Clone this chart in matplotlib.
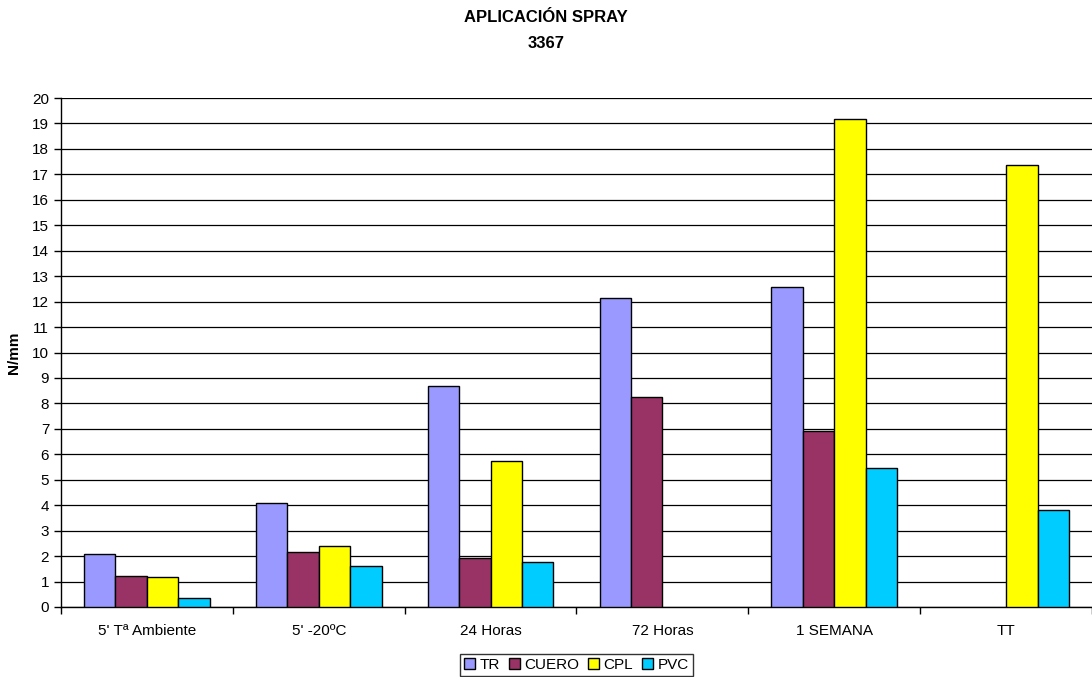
import numpy as np
import matplotlib.pyplot as plt

plt.rcParams['font.family'] = ['Liberation Sans', 'DejaVu Sans']

# datos (N/mm)
categorias = ["5' Tª Ambiente", "5' -20ºC", "24 Horas", "72 Horas", "1 SEMANA", "TT"]
tr = [2.09, 4.07, 8.67, 12.15, 12.57, np.nan]
cuero = [1.22, 2.16, 1.92, 8.27, 6.91, np.nan]
cpl = [1.18, 2.39, 5.72, np.nan, 19.17, 17.37]
pvc = [0.35, 1.62, 1.77, np.nan, 5.48, 3.82]
series = ["TR", "CUERO", "CPL", "PVC"]
colores = ['#9999FF', '#993366', '#FFFF00', '#00CCFF']

fig = plt.figure(figsize=(10.92, 6.77), dpi=100)
ax = fig.add_axes([61/1092, 70/677, 1 - 61/1092, 509/677])

x = np.arange(len(categorias))
ancho = 0.183
for i, (vals, nombre, col) in enumerate(zip([tr, cuero, cpl, pvc], series, colores)):
    ax.bar(x + (i - 1.5) * ancho, vals, ancho, color=col, edgecolor='black',
           linewidth=1, label=nombre, zorder=3)

ax.set_xlim(-0.5, len(categorias) - 0.5)
ax.set_ylim(0, 20)
ax.set_yticks(range(0, 21))
ax.yaxis.grid(True, color='black', linewidth=0.9, zorder=0)
ax.set_axisbelow(True)

# ticks del eje x entre categorias
ax.set_xticks(np.arange(-0.5, len(categorias), 1.0))
ax.set_xticklabels([])
ax.set_xticks(x, minor=True)
ax.set_xticklabels(categorias, minor=True, fontsize=11)
ax.tick_params(axis='x', which='minor', length=0, pad=12)
ax.tick_params(axis='x', which='major', length=5, direction='out', width=1)
ax.tick_params(axis='y', length=5, direction='out', labelsize=11, width=1)

for lado in ['top', 'right']:
    ax.spines[lado].set_visible(False)
ax.spines['left'].set_linewidth(1)
ax.spines['bottom'].set_linewidth(1)

ax.set_ylabel('N/mm', fontsize=11, fontweight='bold', labelpad=8)

fig.text(0.5, 1 - 18/677, 'APLICACIÓN SPRAY', ha='center', va='center',
         fontsize=12, fontweight='bold')
fig.text(0.5, 1 - 43/677, '3367', ha='center', va='center',
         fontsize=12, fontweight='bold')

leg = ax.legend(loc='upper center', bbox_to_anchor=(0.5, -0.093), ncol=4,
                fontsize=11, frameon=True, fancybox=False, edgecolor='black',
                handlelength=0.7, handleheight=0.7, handletextpad=0.3,
                columnspacing=0.6, borderpad=0.25, borderaxespad=0)
leg.get_frame().set_linewidth(1)

fig.savefig('out.png', dpi=100)
